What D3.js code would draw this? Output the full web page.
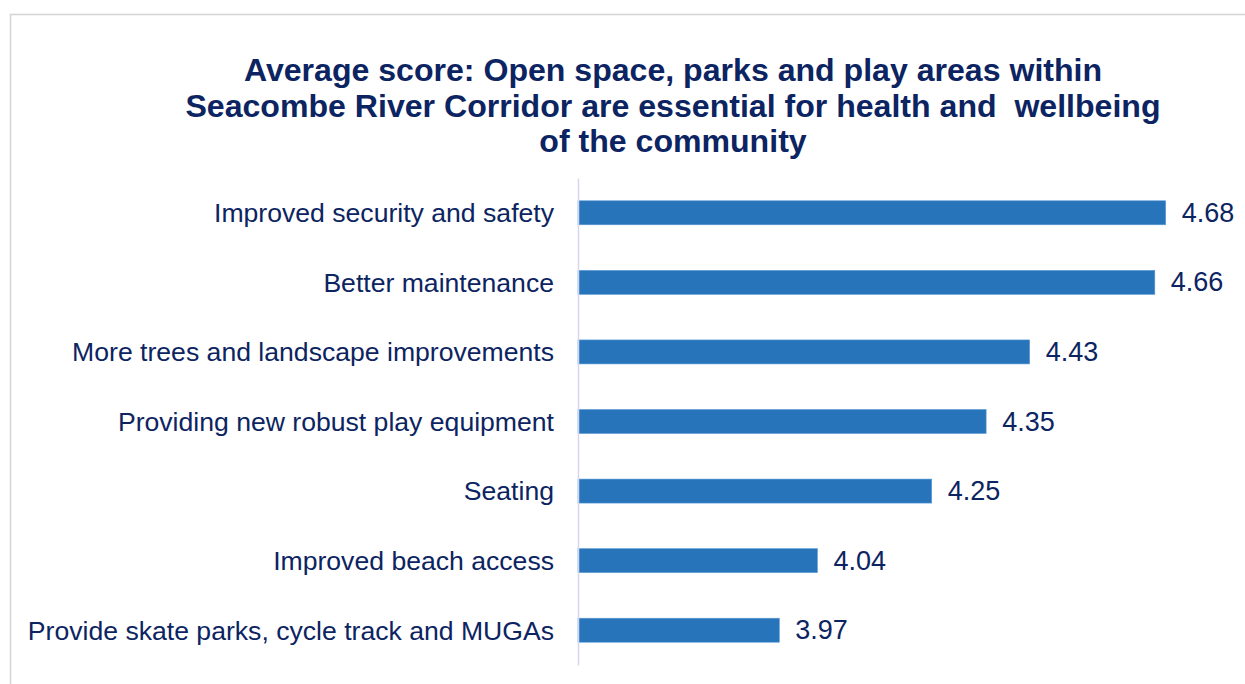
<!DOCTYPE html>
<html>
<head>
<meta charset="utf-8">
<script src="https://cdn.jsdelivr.net/npm/d3@7"></script>
<style>
  html, body { margin: 0; padding: 0; background: #fff; }
  svg { display: block; }
</style>
</head>
<body>
<svg id="chart" width="1245" height="684"></svg>
<script>
const titleLines = [
  "Average score: Open space, parks and play areas within",
  "Seacombe River Corridor are essential for health and\u00a0 wellbeing",
  "of the community"
];
const categories = [
  "Improved security and safety",
  "Better maintenance",
  "More trees and landscape improvements",
  "Providing new robust play equipment",
  "Seating",
  "Improved beach access",
  "Provide skate parks, cycle track and MUGAs"
];
const values = [4.68, 4.66, 4.43, 4.35, 4.25, 4.04, 3.97];
const axisDomain = [3.6, 4.8];

const svg = d3.select("#chart");
const navy = "#0c2461";
const font = "'Liberation Sans', Arial, sans-serif";

// outer frame (top and left edges visible)
svg.append("path")
  .attr("d", "M10.5,684 L10.5,14.5 L1245,14.5")
  .attr("fill", "none").attr("stroke", "#d4d4d4").attr("stroke-width", 1.5);

// title
const title = svg.append("text")
  .attr("text-anchor", "middle")
  .attr("font-family", font).attr("font-weight", "bold")
  .attr("font-size", 32.1).attr("fill", navy);
titleLines.forEach((t, i) => {
  title.append("tspan").attr("x", 673).attr("y", 81 + i * 35.5).text(t);
});

const x = d3.scaleLinear().domain(axisDomain).range([578, 1231]);
const y = d3.scaleBand().domain(categories).range([178, 665])
  .paddingInner(0.655).paddingOuter(0.3275);

// bars
svg.append("g").selectAll("rect").data(values).join("rect")
  .attr("x", x(axisDomain[0]))
  .attr("y", (d, i) => y(categories[i]))
  .attr("width", d => x(d) - x(axisDomain[0]))
  .attr("height", y.bandwidth())
  .attr("fill", "#2874ba")
  .attr("stroke", "#5a9ad6").attr("stroke-width", 0.6);

// value labels
svg.append("g").selectAll("text").data(values).join("text")
  .attr("x", d => x(d) + 16)
  .attr("y", (d, i) => y(categories[i]) + y.bandwidth() / 2 + 9)
  .attr("font-family", font).attr("font-size", 27).attr("fill", navy)
  .text(d => d.toFixed(2));

// category axis
const axis = d3.axisLeft(y).tickSize(0).tickPadding(24);
const gAxis = svg.append("g").attr("transform", `translate(${x(axisDomain[0])},0)`).call(axis);
gAxis.select(".domain").attr("stroke", "#d5d5f0").attr("stroke-width", 1.5);
gAxis.selectAll(".tick text")
  .attr("font-family", font).attr("font-size", 26.6).attr("fill", navy)
  .attr("dy", "0.35em");
</script>
</body>
</html>
